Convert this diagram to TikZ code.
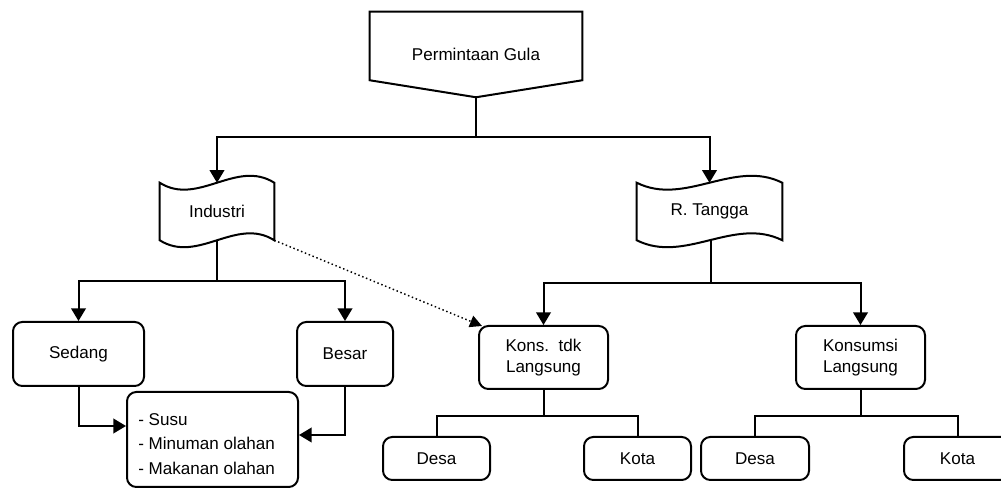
\documentclass[tikz,border=0pt]{standalone}
\usepackage{fontspec}
\setmainfont{Liberation Sans}
\usetikzlibrary{arrows.meta,calc}
\newdimen\px \px=0.75pt
\begin{document}
\begin{tikzpicture}[x=0.75pt,y=-0.75pt,
  line/.style={line width=1.5pt},
  arr/.style={line width=1.5pt,-{Triangle[length=9.5pt,width=11pt]}},
  dotarr/.style={line width=1.1pt,dash pattern=on 1.1pt off 2pt,-{Triangle[length=9pt,width=9pt]}},
  box/.style={draw,line width=1.5pt,rounded corners=7pt,align=center,inner sep=0pt},
  plain/.style={inner sep=0pt,align=center},
  font=\fontsize{12.8}{15.75}\selectfont]
\clip (0,0) rectangle (1001,488);
\fill[white] (0,0) rectangle (1001,488);

% top off-page shape
\node[plain,minimum width=212\px,minimum height=85\px] (top) at (476,54.5) {Permintaan Gula};
\draw[line] (top.north west) -- (top.north east) -- ($(top.south east)+(0,-17)$) -- (top.south) -- ($(top.south west)+(0,-17)$) -- cycle;

% tape shapes
\node[plain,minimum width=114\px,minimum height=57\px] (ind) at (217,211.5) {Industri};
\draw[line] (ind.north west) .. controls +(38,24) and +(-38,-24) .. (ind.north east) -- (ind.south east) .. controls +(-38,-24) and +(38,24) .. (ind.south west) -- cycle;
\node[plain,minimum width=145\px,minimum height=57\px] (rt) at (709.5,211.5) {R. Tangga};
\draw[line] (rt.north west) .. controls +(48,24) and +(-48,-24) .. (rt.north east) -- (rt.south east) .. controls +(-48,-24) and +(48,24) .. (rt.south west) -- cycle;

% level 3 boxes
\node[box,minimum width=131\px,minimum height=64\px] (sed) at (78.5,354) {Sedang};
\node[box,minimum width=96\px,minimum height=64\px] (bes) at (345,354) {Besar};
\node[box,minimum width=171\px,minimum height=95\px] (list) at (212.5,439.5) {};
\node[plain,anchor=west,align=left,font=\fontsize{12.8}{18.4}\selectfont] (listtxt) at (138,444) {- Susu\\- Minuman olahan\\- Makanan olahan};
\node[box,minimum width=129\px,minimum height=63\px] (kt) at (543.5,357.5) {Kons.\ \ tdk\\Langsung};
\node[box,minimum width=129\px,minimum height=63\px] (kl) at (860.5,357.5) {Konsumsi\\Langsung};

% level 4 boxes
\node[box,minimum width=107\px,minimum height=43\px] (d1) at (436.5,458.5) {Desa};
\node[box,minimum width=107\px,minimum height=43\px] (k1) at (637.5,458.5) {Kota};
\node[box,minimum width=108\px,minimum height=43\px] (d2) at (755,458.5) {Desa};
\node[box,minimum width=107\px,minimum height=43\px] (k2) at (957.5,458.5) {Kota};

% connectors
\coordinate (j1) at (476,137);
\draw[line] (top.south) -- (j1);
\draw[arr] (j1) -| (ind.north);
\draw[arr] (j1) -| (rt.north);

\coordinate (j2) at (217,281);
\draw[line] (ind.south) -- (j2);
\draw[arr] (j2) -| (sed.north);
\draw[arr] (j2) -| (bes.north);
\draw[arr] (sed.south) |- ($(list.west)+(0,-13.5)$);
\draw[arr] (bes.south) |- ($(list.east)+(0,-4.5)$);

\coordinate (j3) at (711,283);
\draw[line] ($(rt.south)+(1.5,0)$) -- (j3);
\draw[arr] (j3) -| (kt.north);
\draw[arr] (j3) -| (kl.north);

\coordinate (j4) at (543.5,416);
\draw[line] (kt.south) -- (j4);
\draw[line] (j4) -| (d1.north);
\draw[line] (j4) -| (k1.north);
\coordinate (j5) at (860.5,416);
\draw[line] (kl.south) -- (j5);
\draw[line] (j5) -| (d2.north);
\draw[line] (j5) -| (k2.north);

\draw[dotarr] (ind.south east) -- ($(kt.north west)+(4,1)$);
\end{tikzpicture}
\end{document}
